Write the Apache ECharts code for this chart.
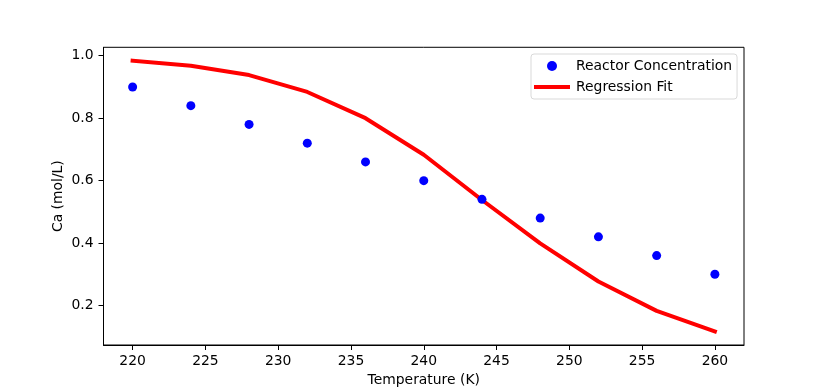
<!DOCTYPE html>
<html><head><meta charset="utf-8">
<script src="https://cdn.jsdelivr.net/npm/echarts@6/dist/echarts.min.js"></script>
<style>html,body{margin:0;padding:0;background:#fff}#c{width:827px;height:388px}</style>
</head><body><div id="c"></div>
<script>
const temperatures = [220, 224, 228, 232, 236, 240, 244, 248, 252, 256, 260];
const reactorConc = [0.90, 0.84, 0.78, 0.72, 0.66, 0.60, 0.54, 0.48, 0.42, 0.36, 0.30];
const regressionFit = [0.984, 0.968, 0.938, 0.884, 0.800, 0.683, 0.538, 0.399, 0.277, 0.183, 0.117];
const xTicks = [220, 225, 230, 235, 240, 245, 250, 255, 260];
const yTicks = [0.2, 0.4, 0.6, 0.8, 1.0];

const font = 'DejaVu Sans';
const fs = 13.9;
const chart = echarts.init(document.getElementById('c'), null, {renderer: 'canvas'});
chart.setOption({
  animation: false,
  backgroundColor: '#fff',
  grid: {left: 103.5, right: 83, top: 47.3, bottom: 43, outerBoundsMode: 'none', containLabel: false,
    show: true, borderColor: '#000', borderWidth: 1, backgroundColor: 'transparent'},
  legend: {
    orient: 'vertical', left: 531, top: 54,
    padding: [5, 5, 5, 3],
    itemWidth: 32, itemHeight: 10, itemGap: 7,
    backgroundColor: '#fff', borderColor: '#d9d9d9', borderWidth: 1, borderRadius: 3,
    textStyle: {fontFamily: font, fontSize: fs, color: '#000', padding: [0, 0, 0, 3]},
    data: [
      {name: 'Reactor Concentration', icon: 'circle', itemStyle: {color: '#0000ff', opacity: 1}},
      {name: 'Regression Fit', icon: 'inherit', itemStyle: {color: 'rgba(0,0,0,0)', borderWidth: 0, opacity: 0},
        lineStyle: {width: 4, color: '#ff0000', opacity: 1}}
    ]
  },
  xAxis: {
    type: 'value', min: 218, max: 262,
    name: 'Temperature (K)', nameLocation: 'middle', nameGap: 28,
    nameTextStyle: {fontFamily: font, fontSize: fs, color: '#000'},
    axisLine: {show: true, lineStyle: {color: '#000', width: 1}},
    axisTick: {show: true, inside: false, length: 5, lineStyle: {color: '#000'}, customValues: xTicks},
    axisLabel: {fontFamily: font, fontSize: fs, color: '#000', margin: 9, customValues: xTicks},
    splitLine: {show: false}
  },
  yAxis: {
    type: 'value', min: 0.0736, max: 1.027,
    name: 'Ca (mol/L)', nameLocation: 'middle', nameGap: 38, nameMoveOverlap: false,
    nameTextStyle: {fontFamily: font, fontSize: fs, color: '#000'},
    axisLine: {show: true, lineStyle: {color: '#000', width: 1}},
    axisTick: {show: true, inside: false, length: 5, lineStyle: {color: '#000'}, customValues: yTicks},
    axisLabel: {fontFamily: font, fontSize: fs, color: '#000', margin: 10, customValues: yTicks,
      formatter: v => v.toFixed(1)},
    splitLine: {show: false}
  },
  series: [
    {
      name: 'Reactor Concentration', type: 'scatter',
      data: temperatures.map((t, i) => [t, reactorConc[i]]),
      symbol: 'circle', symbolSize: 9,
      itemStyle: {color: '#0000ff', opacity: 1}, z: 3
    },
    {
      name: 'Regression Fit', type: 'line',
      data: temperatures.map((t, i) => [t, regressionFit[i]]),
      symbol: 'none', showSymbol: false,
      lineStyle: {color: '#ff0000', width: 4, cap: 'square'},
      itemStyle: {color: '#ff0000'}, z: 2
    }
  ]
});
</script>
</body></html>
